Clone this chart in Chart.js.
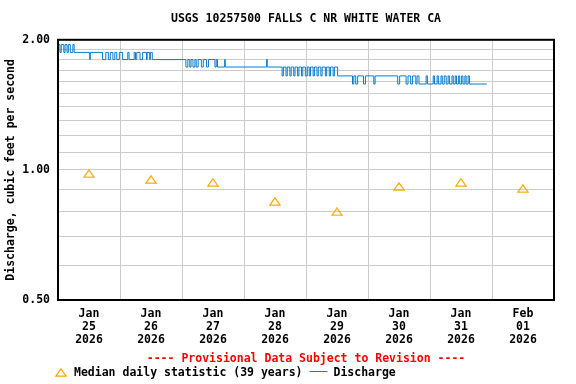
<!DOCTYPE html>
<html>
<head>
<meta charset="utf-8">
<script src="https://cdn.jsdelivr.net/npm/chart.js@4/dist/chart.umd.min.js"></script>
<style>
    html, body { margin: 0; padding: 0; background: #fff; }
    #wrap { width: 576px; height: 384px; }
</style>
</head>
<body>
<div id="wrap"><canvas id="chart" width="576" height="384"></canvas></div>
<script>
// Jours affichés sous l'axe X (un label par jour, centré à midi)
const dayLabels = [
    ['Jan', '25', '2026'], ['Jan', '26', '2026'], ['Jan', '27', '2026'], ['Jan', '28', '2026'],
    ['Jan', '29', '2026'], ['Jan', '30', '2026'], ['Jan', '31', '2026'], ['Feb', '01', '2026']
];

// Médiane journalière (39 ans), pieds cubes par seconde
const medianCfs = [0.98, 0.95, 0.935, 0.845, 0.80, 0.915, 0.935, 0.905];

// Débit : [heures depuis le 25 jan 00:00, valeur], en escalier
const flowSteps = [
    [0, 1.95], [0.75, 1.87], [1.25, 1.95], [2.25, 1.87], [2.75, 1.95], [3.5, 1.87], [4, 1.95], [4.75, 1.87], [5.75, 1.95], [6.25, 1.87],
    [12.25, 1.80], [12.5, 1.87],
    [17.25, 1.80], [18.5, 1.87], [19.5, 1.80], [20.25, 1.87], [21.25, 1.80], [22, 1.87], [22.75, 1.80], [23.75, 1.87], [25, 1.80], [27, 1.87],
    [27.5, 1.80], [29.5, 1.87], [30, 1.80], [30.5, 1.87], [31.75, 1.80], [32.75, 1.87], [34.25, 1.80], [34.5, 1.87], [35.5, 1.80], [35.75, 1.87], [36.5, 1.80],
    [49.5, 1.73], [50.25, 1.80], [51, 1.73], [51.5, 1.80], [52.25, 1.73], [53, 1.80], [53.5, 1.73], [54.25, 1.80], [55.5, 1.73], [56.25, 1.80],
    [57.5, 1.73], [58.25, 1.80], [60.75, 1.73], [61.25, 1.80], [61.75, 1.73], [64.5, 1.80], [64.75, 1.73],
    [80.75, 1.80], [81, 1.73],
    [86.75, 1.65], [87.25, 1.73], [88.25, 1.65], [88.75, 1.73], [89.75, 1.65], [90.25, 1.73], [91.25, 1.65], [91.75, 1.73], [92.75, 1.65], [93.25, 1.73],
    [94.25, 1.65], [94.75, 1.73], [95.75, 1.65], [96.5, 1.73], [97.25, 1.65], [97.75, 1.73], [98.75, 1.65], [99.25, 1.73], [100.25, 1.65], [100.75, 1.73],
    [101.75, 1.65], [102.25, 1.73], [103.5, 1.65], [104, 1.73], [105, 1.65], [105.5, 1.73], [106.5, 1.65], [107, 1.73], [108.25, 1.65],
    [114, 1.58], [114.5, 1.65], [115.25, 1.58], [116, 1.65], [118.25, 1.58], [119, 1.65], [122.25, 1.58], [122.75, 1.65],
    [131.5, 1.58], [132.25, 1.65], [134.75, 1.58], [135.5, 1.65], [136.5, 1.58], [137.25, 1.65], [138.5, 1.58], [139, 1.65], [139.75, 1.58],
    [142.5, 1.65], [143, 1.58], [145.25, 1.65], [145.75, 1.58], [146.75, 1.65], [147.25, 1.58], [148.25, 1.65], [148.75, 1.58], [149.5, 1.65],
    [150.25, 1.58], [151, 1.65], [151.5, 1.58], [152.5, 1.65], [153, 1.58], [153.75, 1.65], [154.25, 1.58], [155, 1.65], [155.5, 1.58],
    [156.25, 1.65], [156.75, 1.58], [157.5, 1.65], [158, 1.58], [158.75, 1.65], [159.25, 1.58], [166, 1.58]
];

// Graduations de l'axe Y (log) : lignes tous les 0.1, libellés seulement sur certaines
const yGridValues = [0.5, 0.6, 0.7, 0.8, 0.9, 1.0, 1.1, 1.2, 1.3, 1.4, 1.5, 1.6, 1.7, 1.8, 1.9, 2.0];
const yLabelValues = [0.5, 1.0, 2.0];

const FONT = 'DejaVu Sans Mono';
const ORANGE = '#FFA500';
const BLUE = '#0b7dcc';

// petit triangle creux pour les médianes
const triangle = document.createElement('canvas');
triangle.width = 12;
triangle.height = 9;
const tctx = triangle.getContext('2d');
tctx.strokeStyle = ORANGE;
tctx.lineWidth = 1.2;
tctx.beginPath();
tctx.moveTo(6, 0.8);
tctx.lineTo(11.3, 8.2);
tctx.lineTo(0.7, 8.2);
tctx.closePath();
tctx.stroke();

const frameAndFooter = {
    id: 'frameAndFooter',
    afterDraw(chart) {
        const ctx = chart.ctx;
        const area = chart.chartArea;
        ctx.save();
        ctx.strokeStyle = '#000';
        ctx.lineWidth = 2;
        ctx.strokeRect(area.left, area.top, area.right - area.left, area.bottom - area.top);

        ctx.font = 'bold 11.5px "' + FONT + '"';
        ctx.textBaseline = 'middle';
        ctx.textAlign = 'center';
        ctx.fillStyle = '#FF0000';
        ctx.fillText('---- Provisional Data Subject to Revision ----', (area.left + area.right) / 2, 359);

        // légende
        ctx.textAlign = 'left';
        ctx.fillStyle = '#000';
        ctx.drawImage(triangle, 55, 368);
        const txt1 = 'Median daily statistic (39 years)';
        ctx.fillText(txt1, 74, 373);
        const x1 = 74 + ctx.measureText(txt1).width + 7;
        ctx.strokeStyle = BLUE;
        ctx.lineWidth = 1;
        ctx.beginPath();
        ctx.moveTo(x1, 371.5);
        ctx.lineTo(x1 + 18, 371.5);
        ctx.stroke();
        ctx.fillText('Discharge', x1 + 24, 373);
        ctx.restore();
    }
};

new Chart(document.getElementById('chart'), {
    type: 'line',
    data: {
        datasets: [{
            label: 'Median daily statistic (39 years)',
            data: medianCfs.map((v, i) => ({ x: i * 24 + 12, y: v })),
            showLine: false,
            pointStyle: triangle,
            pointRadius: 5
        }, {
            label: 'Discharge',
            data: flowSteps.map(s => ({ x: s[0], y: s[1] })),
            stepped: true,
            borderColor: BLUE,
            borderWidth: 1,
            pointRadius: 0,
            fill: false
        }]
    },
    options: {
        responsive: false,
        animation: false,
        layout: { padding: { left: 0, right: 22, top: 0, bottom: 0 } },
        plugins: {
            legend: { display: false },
            tooltip: { enabled: false },
            title: {
                display: true,
                fullSize: false,
                text: 'USGS 10257500 FALLS C NR WHITE WATER CA',
                color: '#000',
                font: { family: FONT, size: 11.5, weight: 'bold', lineHeight: 1.2 },
                padding: { top: 12, bottom: 14 }
            }
        },
        scales: {
            x: {
                type: 'linear',
                min: 0,
                max: 192,
                afterBuildTicks: scale => {
                    scale.ticks = dayLabels.concat([null]).map((d, i) => ({ value: i * 24 }));
                },
                afterFit: scale => { scale.height = 84; },
                grid: { color: '#cccccc', drawTicks: false },
                border: { display: false },
                ticks: {
                    autoSkip: false,
                    maxRotation: 0,
                    labelOffset: 31,
                    padding: 8,
                    color: '#000',
                    font: { family: FONT, size: 11.5, weight: 'bold', lineHeight: 1.13 },
                    callback: (value, index) => dayLabels[index] || ''
                }
            },
            y: {
                type: 'logarithmic',
                min: 0.5,
                max: 2.0,
                afterBuildTicks: scale => {
                    scale.ticks = yGridValues.map(v => ({ value: v }));
                },
                afterFit: scale => { scale.width = 58; },
                grid: { color: '#cccccc', drawTicks: false },
                border: { display: false },
                ticks: {
                    autoSkip: false,
                    padding: 8,
                    color: '#000',
                    font: { family: FONT, size: 11.5, weight: 'bold' },
                    callback: value => yLabelValues.some(v => Math.abs(v - value) < 1e-6) ? Number(value).toFixed(2) : ''
                },
                title: {
                    display: true,
                    text: 'Discharge, cubic feet per second',
                    color: '#000',
                    font: { family: FONT, size: 11.5, weight: 'bold', lineHeight: 1.2 },
                    padding: { top: 4, bottom: 0 }
                }
            }
        }
    },
    plugins: [frameAndFooter]
});
</script>
</body>
</html>
